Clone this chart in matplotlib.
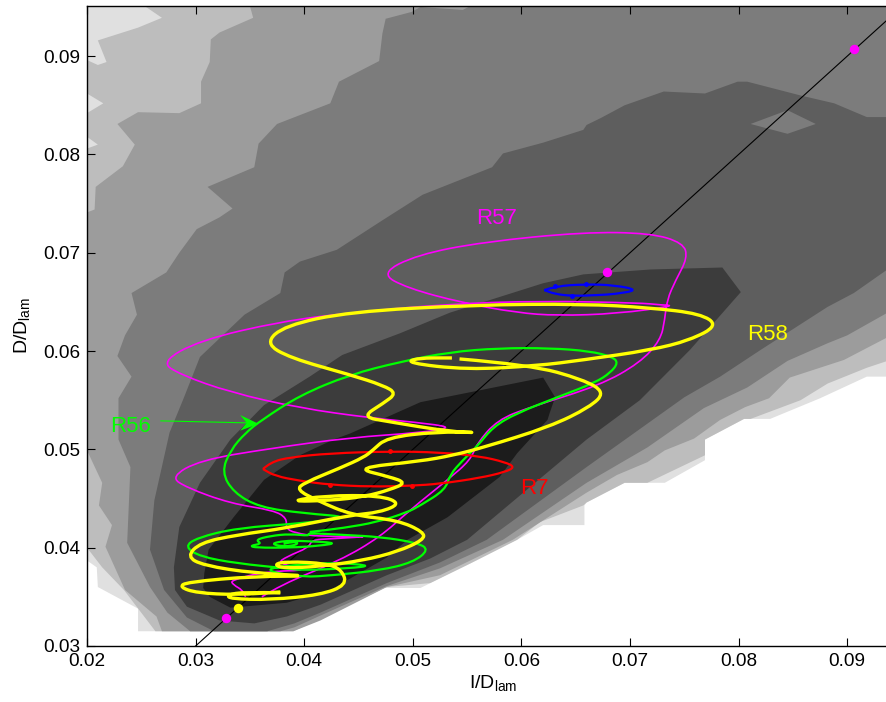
import matplotlib
matplotlib.use('Agg')
import matplotlib.pyplot as plt
import numpy as np
from matplotlib.path import Path
from matplotlib.patches import PathPatch

# all values below are in thousandths of I/D_lam and D/D_lam

level1_x = [20, 93.7, 93.7, 91.8, 87.5, 82.9, 80.5, 76.9, 76.9, 73.2, 69.5, 66.0, 65.8, 65.8, 62.0, 59.6, 55.3, 50.7, 47.0, 41.5, 38.4, 24.7, 24.7, 21.0, 20.9, 20]
level1_y = [95.1, 95.1, 57.4, 57.4, 55.2, 53.1, 53.1, 51.0, 48.9, 46.6, 46.6, 44.6, 44.3, 42.3, 42.3, 40.8, 38.4, 35.9, 35.9, 32.8, 31.5, 31.5, 33.8, 36.0, 38.0, 38.7]

level2_x = [20, 21.0, 21.8, 21.0, 24.7, 26.9, 25.3, 93.7, 93.7, 91.8, 88.2, 85.7, 81.1, 80.5, 76.9, 76.9, 71.6, 69.5, 66.0, 65.7, 61.7, 59.6, 55.3, 51.6, 47.6, 41.5, 39.0, 26.3, 23.4, 21.4, 20, 20, 21.0, 20, 20, 21.5, 20]
level2_y = [89.6, 89.1, 89.4, 91.6, 92.9, 93.9, 95.1, 95.1, 59.0, 58.3, 56.7, 55.0, 53.1, 53.1, 51.0, 49.4, 46.6, 46.6, 44.6, 44.3, 42.6, 40.8, 38.4, 36.4, 36.0, 32.8, 31.5, 31.5, 35.7, 38.0, 40.0, 80.6, 81.0, 81.8, 84.2, 85.2, 86.2]

level3_x = [35.0, 93.7, 93.7, 89.7, 84.7, 82.8, 80.6, 78.3, 75.9, 73.2, 71.6, 68.8, 66.0, 59.2, 52.5, 47.6, 41.5, 39.0, 26.9, 26.4, 23.5, 21.7, 22.3, 21.1, 21.4, 20, 20, 20.7, 20.8, 23.3, 24.4, 22.8, 24.7, 28.5, 30.5, 30.5, 31.3, 31.4, 32.2, 35.3]
level3_y = [95.1, 95.1, 61.4, 59.1, 57.3, 55.2, 54.3, 53.0, 51.1, 49.9, 48.7, 47.4, 45.6, 40.8, 37.2, 36.0, 32.6, 31.5, 31.5, 33.0, 35.7, 40.1, 42.3, 44.3, 46.6, 49.9, 74.1, 74.4, 76.7, 78.8, 81.0, 83.1, 84.3, 84.2, 85.2, 87.4, 89.4, 91.7, 92.4, 93.9]

level4_x = [54.6, 55.3, 93.7, 93.7, 90.0, 88.2, 84.5, 80.8, 76.8, 71.6, 66.0, 58.3, 52.5, 47.6, 41.5, 39.1, 37.8, 29.5, 27.4, 25.8, 23.7, 24.0, 22.9, 22.9, 24.1, 22.8, 23.5, 24.6, 24.1, 27.3, 28.5, 30.1, 32.2, 33.4, 31.1, 35.4, 35.8, 37.5, 39.6, 42.4, 43.2, 46.9, 47.2, 47.5, 49.9, 50.7]
level4_y = [94.7, 95.1, 95.1, 63.9, 61.6, 60.8, 59.0, 56.3, 54.2, 50.2, 46.6, 40.8, 37.9, 36.1, 33.1, 31.9, 31.5, 31.5, 33.4, 36.0, 40.5, 48.2, 51.0, 55.2, 57.4, 59.5, 61.6, 63.7, 65.9, 68.0, 70.0, 72.4, 73.6, 74.5, 76.7, 78.7, 81.1, 83.1, 84.0, 85.2, 87.4, 89.5, 92.3, 93.8, 94.5, 95.0]

level5_x = [43.0, 39.6, 38.2, 37.8, 34.5, 30.4, 28.9, 27.6, 26.2, 25.8, 27.1, 29.2, 31.7, 36.6, 39.1, 41.5, 47.6, 52.5, 56.8, 66.0, 75.0, 78.3, 82.0, 88.2, 90.6, 93.7, 93.7, 91.8, 88.8, 85.7, 80.8, 79.9, 76.9, 73.1, 69.5, 67.3, 66.0, 65.7, 62.0, 58.3, 57.3, 50.9, 47.2]
level5_y = [70.3, 69.1, 68.0, 65.9, 63.7, 59.4, 55.2, 51.7, 44.8, 39.8, 35.7, 32.9, 31.5, 31.5, 32.3, 33.4, 36.4, 38.5, 40.8, 48.2, 55.3, 57.4, 60.1, 64.5, 65.9, 68.3, 83.8, 83.8, 85.2, 86.0, 87.4, 87.4, 86.2, 86.4, 85.0, 83.7, 83.0, 82.5, 81.2, 80.1, 78.7, 75.9, 73.3]

hole_x = [81.1, 84.5, 87.1, 84.5]
hole_y = [83.1, 84.5, 83.1, 82.1]

level6_x = [36.3, 40.5, 43.5, 48.8, 53.4, 62.0, 65.7, 71.9, 78.5, 80.2, 75.5, 70.9, 66.0, 55.0, 51.6, 47.6, 41.5, 38.4, 35.4, 32.2, 29.2, 28.1, 28.0, 28.5, 30.4, 33.2]
level6_y = [54.5, 57.4, 59.6, 61.8, 63.9, 66.9, 67.8, 68.3, 68.5, 66.0, 60.1, 55.0, 51.0, 40.8, 38.9, 37.2, 34.2, 33.0, 32.3, 32.6, 34.0, 35.7, 38.0, 42.1, 46.6, 51.0]

level7_x = [36.3, 39.6, 42.7, 44.2, 50.7, 62.0, 63.1, 62.6, 62.4, 59.6, 58.0, 53.2, 49.5, 47.6, 42.4, 38.4, 33.2, 31.3, 30.7, 30.8, 31.2, 33.5]
level7_y = [46.9, 49.4, 51.0, 51.6, 54.8, 57.3, 55.3, 53.7, 53.0, 49.6, 47.2, 43.1, 40.8, 39.0, 35.7, 34.4, 33.9, 35.0, 35.9, 37.4, 39.8, 43.1]

r7_x = [36.2, 36.9, 38.7, 42.4, 47.9, 52.5, 56.2, 58.5, 59.4, 58.5, 56.2, 52.5, 49.9, 46.1, 42.4, 39.6, 37.3, 36.2]
r7_y = [48.0, 48.7, 49.2, 49.6, 49.8, 49.7, 49.3, 48.7, 48.2, 47.7, 47.1, 46.5, 46.3, 46.2, 46.4, 46.8, 47.3, 48.0]
r7_dot_x = [47.9, 49.9, 42.4]
r7_dot_y = [49.8, 46.3, 46.4]

blue_x = [62.1, 63.1, 65.9, 68.6, 70.8, 68.6, 67.2, 64.7, 63.1, 62.1]
blue_y = [66.2, 66.6, 66.8, 66.7, 66.2, 65.8, 65.7, 65.6, 65.8, 66.2]
blue_dot_x = [65.9, 64.7, 63.1]
blue_dot_y = [66.8, 65.6, 66.6]

r56_x = [38.1, 39.3, 39.4, 38.1, 36.9, 38.2, 39.6, 43.1, 41.5, 38.7, 35.5, 35.0, 36.1, 35.5, 36.9, 38.7, 40.5, 40.3,
         43.6, 47.0, 50.4, 51.5, 50.0, 47.0, 42.7, 39.9, 37.0, 36.8, 38.7, 42.4, 46.3, 44.2, 39.6, 38.4,
         33.8, 30.4, 29.0, 30.1, 33.8, 40.0, 44.5, 40.0, 35.9, 33.5, 32.4, 33.2, 34.6, 36.1,
         39.6, 44.2, 48.8, 53.4, 58.0, 62.6, 66.3, 68.4, 68.9, 68.2, 66.8, 63.3, 59.6, 57.4,
         56.0, 54.6, 53.4, 53.0, 50.7, 49.5, 46.7, 43.6, 40.5]
r56_y = [40.4, 40.7, 40.3, 40.1, 40.4, 40.7, 40.7, 40.5, 40.2, 40.0, 40.0, 40.2, 40.4, 40.8, 41.2, 41.4, 41.2, 41.5,
         41.3, 41.1, 40.5, 39.8, 38.5, 37.7, 37.2, 37.0, 37.5, 37.9, 38.2, 38.5, 38.2, 37.9, 37.7, 37.9,
         38.4, 39.1, 40.1, 41.0, 42.0, 42.5, 43.1, 43.5, 44.1, 45.6, 47.7, 49.9, 51.7, 53.0,
         55.5, 57.6, 58.9, 59.9, 60.3, 60.3, 60.0, 59.4, 58.8, 57.8, 56.8, 55.3, 53.7, 52.3,
         50.4, 48.9, 47.4, 45.9, 44.3, 43.6, 42.6, 42.0, 41.6]

r57_x = [36.1, 37.8, 43.3, 47.0, 49.7, 53.2, 55.3, 55.9, 57.8, 60.8, 67.2, 70.9, 72.8, 73.2, 73.4, 74.2, 75.3, 74.9, 71.9, 65.7,
         56.5, 50.4, 47.0, 49.5, 54.6, 59.6, 63.3, 68.8, 74.2, 72.8, 70.9, 61.7, 53.4, 44.2, 37.8, 30.4, 26.8, 28.6, 33.2, 39.6,
         46.1, 51.6, 53.6, 50.7, 44.2, 36.9, 30.4, 27.7, 29.2, 33.2, 37.2, 38.4, 38.3, 39.1, 41.5, 46.8, 42.4, 40.7, 40.4, 38.4,
         37.5, 40.6, 36.6, 33.2, 33.5, 34.3, 34.6]
r57_y = [35.0, 36.2, 38.7, 41.1, 43.8, 46.9, 48.9, 50.6, 53.0, 54.3, 56.5, 58.8, 61.1, 63.2, 65.2, 67.2, 69.5, 71.0, 72.0, 72.1,
         71.1, 69.8, 67.9, 66.4, 64.9, 63.9, 63.6, 63.8, 64.6, 64.7, 64.9, 65.1, 64.8, 63.9, 63.0, 61.1, 58.9, 57.6, 55.8, 54.2,
         53.2, 52.6, 52.2, 51.7, 51.2, 50.1, 48.9, 47.2, 46.1, 44.5, 43.8, 43.0, 42.0, 41.5, 41.1, 41.2, 40.9, 40.8, 40.0, 39.1,
         38.4, 37.7, 37.6, 36.7, 36.2, 35.7, 35.0]

r58a_x = [37.8, 34.5, 32.9, 33.2, 36.9, 41.5, 43.9, 43.5, 42.1, 38.4, 37.2, 38.1, 41.5, 45.4, 48.6, 51.0, 51.0, 48.6, 44.4, 41.2,
          39.3, 40.0, 43.3, 45.5, 46.3, 47.6, 52.2, 56.3, 53.4, 47.9, 45.3, 47.3, 48.5, 47.3, 44.2, 38.7, 36.4, 38.2, 44.2, 55.6,
          65.7, 71.9, 76.5, 78.1, 75.5, 71.9, 65.7, 61.4, 55.0, 49.4, 50.4, 53.6]
r58a_y = [35.4, 35.5, 35.2, 34.8, 34.7, 35.2, 36.2, 37.7, 38.4, 38.6, 38.3, 37.9, 38.1, 38.7, 39.6, 40.8, 41.6, 42.8, 43.3, 44.8,
          45.9, 46.6, 48.1, 49.2, 49.9, 51.2, 51.8, 51.7, 51.8, 52.8, 53.3, 54.7, 55.7, 56.5, 57.6, 59.3, 60.8, 62.6, 64.0, 64.7,
          64.8, 64.4, 63.8, 62.6, 61.1, 60.1, 59.1, 58.5, 58.1, 58.8, 59.3, 59.3]

r58b_x = [54.3, 60.8, 65.7, 67.7, 66.3, 62.6, 56.5, 53.7, 50.7, 44.6, 47.9, 49.4, 47.9, 45.6, 42.4, 38.5, 41.9, 47.0, 48.9, 47.0,
          44.2, 38.4, 33.8, 30.4, 29.2, 30.7, 35.4, 41.2, 35.4, 29.2, 28.5, 30.1, 33.8, 37.8]
r58b_y = [59.2, 58.6, 57.1, 55.8, 54.3, 52.3, 50.2, 49.4, 48.8, 48.1, 47.2, 46.6, 45.9, 45.2, 44.8, 44.7, 45.3, 45.3, 44.5, 43.6,
          43.3, 42.0, 41.3, 40.5, 39.1, 38.2, 37.4, 37.1, 37.1, 36.5, 36.0, 35.4, 35.2, 35.5]

magenta_dots_x = [32.8, 67.9, 90.6]
magenta_dots_y = [32.8, 68.0, 90.7]
yellow_dot_x = [33.9]
yellow_dot_y = [33.9]

arrow_line_x = [26.8, 34.7]
arrow_line_y = [52.9, 52.7]
arrow_head_x = [35.8, 34.1, 34.7, 34.1]
arrow_head_y = [52.6, 53.5, 52.7, 51.9]

x_ticks = [0.02, 0.03, 0.04, 0.05, 0.06, 0.07, 0.08, 0.09]
y_ticks = [0.03, 0.04, 0.05, 0.06, 0.07, 0.08, 0.09]

plt.rcParams['font.family'] = ['Liberation Sans', 'DejaVu Sans']
plt.rcParams['mathtext.default'] = 'regular'


def draw_curve(ax, xs, ys, color, width):
    # quadratic bezier through the read points, so the loops stay round
    pts = np.column_stack([xs, ys]) / 1000
    verts = [pts[0]]
    codes = [Path.MOVETO]
    for i in range(1, len(pts) - 1):
        verts += [pts[i], (pts[i] + pts[i + 1]) / 2]
        codes += [Path.CURVE3, Path.CURVE3]
    verts.append(pts[-1])
    codes.append(Path.LINETO)
    ax.add_patch(PathPatch(Path(verts, codes), fc='none', ec=color, lw=width,
                           capstyle='butt', joinstyle='round', zorder=5))


fig = plt.figure(figsize=(8.87, 7.02), dpi=100)
ax = fig.add_axes([87 / 887, 56 / 702, 800 / 887, 640 / 702])

shades = [(level1_x, level1_y, '#e0e0e0'), (level2_x, level2_y, '#bdbdbd'),
          (level3_x, level3_y, '#9c9c9c'), (level4_x, level4_y, '#7c7c7c'),
          (level5_x, level5_y, '#5e5e5e'), (hole_x, hole_y, '#7c7c7c'),
          (level6_x, level6_y, '#3c3c3c'), (level7_x, level7_y, '#1c1c1c')]
for xs, ys, shade in shades:
    ax.fill(np.array(xs) / 1000, np.array(ys) / 1000, color=shade, lw=0, zorder=1)

ax.plot([0.03, 0.0951], [0.03, 0.0951], color='black', lw=0.8, zorder=3)

draw_curve(ax, r57_x, r57_y, '#ff00ff', 1.2)
draw_curve(ax, r56_x, r56_y, '#00ff00', 1.6)
draw_curve(ax, r7_x, r7_y, '#ff0000', 1.6)
draw_curve(ax, blue_x, blue_y, '#0000ff', 1.6)
draw_curve(ax, r58a_x, r58a_y, '#ffff00', 2.4)
draw_curve(ax, r58b_x, r58b_y, '#ffff00', 2.4)

ax.plot(np.array(r7_dot_x) / 1000, np.array(r7_dot_y) / 1000, 'o', color='#ff0000', ms=2.5, zorder=5)
ax.plot(np.array(blue_dot_x) / 1000, np.array(blue_dot_y) / 1000, 'o', color='#0000ff', ms=2.5, zorder=5)
ax.plot(np.array(magenta_dots_x) / 1000, np.array(magenta_dots_y) / 1000, 'o', color='#ff00ff', ms=6.8, mew=0, zorder=6)
ax.plot(np.array(yellow_dot_x) / 1000, np.array(yellow_dot_y) / 1000, 'o', color='#ffff00', ms=6.8, mew=0, zorder=6)

ax.plot(np.array(arrow_line_x) / 1000, np.array(arrow_line_y) / 1000, color='#00ff00', lw=0.8, zorder=6)
ax.fill(np.array(arrow_head_x) / 1000, np.array(arrow_head_y) / 1000, color='#00ff00', lw=0, zorder=6)

ax.text(0.0577, 0.0735, 'R57', color='#ff00ff', fontsize=16, ha='center', va='center', zorder=7)
ax.text(0.0240, 0.0523, 'R56', color='#00ff00', fontsize=16, ha='center', va='center', zorder=7)
ax.text(0.0612, 0.0460, 'R7', color='#ff0000', fontsize=16, ha='center', va='center', zorder=7)
ax.text(0.0827, 0.0617, 'R58', color='#ffff00', fontsize=16, ha='center', va='center', zorder=7)

ax.set_xlim(0.02, 0.09366)
ax.set_ylim(0.03, 0.0951)
ax.set_xticks(x_ticks)
ax.set_yticks(y_ticks)
ax.set_xticklabels(['%.2f' % t for t in x_ticks])
ax.set_yticklabels(['%.2f' % t for t in y_ticks])
ax.tick_params(direction='in', length=6, width=0.8, labelsize=13.7, top=True, right=False, pad=5, zorder=8)
ax.spines['right'].set_visible(False)
for spine in ax.spines.values():
    spine.set_linewidth(1.0)
    spine.set_zorder(8)
ax.set_xlabel('I/D$_{lam}$', fontsize=14, labelpad=2)
ax.xaxis.set_label_coords(0.5075, -0.0425)
ax.set_ylabel('D/D$_{lam}$', fontsize=14, labelpad=8)

fig.savefig('out.png', dpi=100)
